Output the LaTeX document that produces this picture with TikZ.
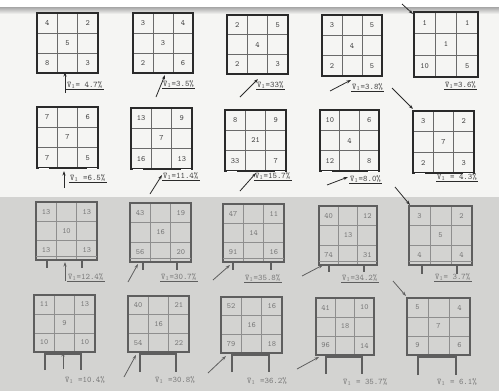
\documentclass[tikz,border=0pt]{standalone}
\usetikzlibrary{arrows.meta,calc}
\definecolor{paper}{HTML}{F5F5F3}
\definecolor{paperg}{HTML}{D3D3D1}
\definecolor{tink}{HTML}{2A2A2A}
\definecolor{tgridc}{HTML}{6A6A6A}
\definecolor{tnumc}{HTML}{454545}
\definecolor{bink}{HTML}{5E5E5E}
\definecolor{bgridc}{HTML}{8E8E8E}
\definecolor{bnumc}{HTML}{7A7A7A}
\tikzset{
  tbox/.style={inner sep=0pt,outer sep=0pt},
  bbox/.style={inner sep=0pt,outer sep=0pt},
  tborder/.style={draw=tink,line width=2.4pt},
  bborder/.style={draw=bink,line width=2.2pt},
  tgrid/.style={draw=tgridc,line width=0.8pt},
  bgrid/.style={draw=bgridc,line width=0.8pt},
  tnum/.style={text=tnumc,font=\fontsize{8}{9}\ttfamily,inner sep=0pt},
  bnum/.style={text=bnumc,font=\fontsize{8}{9}\ttfamily,inner sep=0pt},
  tlab/.style={text=tnumc,font=\fontsize{8.5}{10}\ttfamily,inner sep=1pt,anchor=west},
  blab/.style={text=bnumc,font=\fontsize{8.5}{10}\ttfamily,inner sep=1pt,anchor=west},
  tul/.style={draw=tink,line width=0.8pt},
  bul/.style={draw=bink,line width=0.8pt},
  tarr/.style={draw=tink,line width=0.8pt,-{Stealth[length=4.5pt,width=3pt]}},
  barr/.style={draw=bink,line width=0.8pt,-{Stealth[length=4.5pt,width=3pt]}},
  bleg/.style={draw=bink,line width=2.2pt},
}
\newcommand\gbox[7]{%
  \node[#6box, anchor=north west, minimum width={(#4-#2)*1pt}, minimum height={(#5-#3)*1pt}] (#1) at (#2,#3) {};
  \draw[#6grid] ($(#1.north west)!1/3!(#1.north east)$) -- ($(#1.south west)!1/3!(#1.south east)$)
    ($(#1.north west)!2/3!(#1.north east)$) -- ($(#1.south west)!2/3!(#1.south east)$)
    ($(#1.north west)!1/3!(#1.south west)$) -- ($(#1.north east)!1/3!(#1.south east)$)
    ($(#1.north west)!2/3!(#1.south west)$) -- ($(#1.north east)!2/3!(#1.south east)$);
  \draw[#6border] (#1.north west) rectangle (#1.south east);
  \gnums{#1}{#6}#7\relax}
\def\gnums#1#2#3/#4/#5/#6/#7\relax{%
  \node[#2num] (#1-tl) at ($(#1.north west)!1/6!(#1.south east)$) {#3};
  \node[#2num] (#1-tr) at ($(#1.north east)!1/6!(#1.south west)$) {#4};
  \node[#2num] (#1-c) at (#1.center) {#5};
  \node[#2num] (#1-bl) at ($(#1.south west)!1/6!(#1.north east)$) {#6};
  \node[#2num] (#1-br) at ($(#1.south east)!1/6!(#1.north west)$) {#7};}
\newcommand\vb{$\bar{\mathtt{V}}_{\scriptstyle 1}$}
\begin{document}
\begin{tikzpicture}[x=1pt,y=-1pt]
\useasboundingbox (0,0) rectangle (499,391);
% backgrounds
\fill[paper] (0,0) rectangle (499,197);
\fill[white] (0,0) rectangle (499,7);
\shade[top color=gray!70,bottom color=paper] (0,7) rectangle (499,14);
\fill[paperg] (0,197) rectangle (499,391);

% ---------- row 1 ----------
\gbox{b11}{37}{13}{98}{73}{t}{4/2/5/8/3}
\gbox{b12}{133}{13}{193}{73}{t}{3/4/3/2/6}
\gbox{b13}{227}{15}{288}{74}{t}{2/5/4/2/3}
\gbox{b14}{322}{15}{382}{76}{t}{3/5/4/2/5}
\gbox{b15}{414}{12}{478}{77}{t}{1/1/1/10/5}
\node[tlab] (l11) at (66,85) {\vb= 4.7\%};
\node[tlab] (l12) at (162,84) {\vb=3.5\%};
\node[tlab] (l13) at (256,85) {\vb=33\%};
\node[tlab] (l14) at (351,87) {\vb=3.8\%};
\node[tlab] (l15) at (444,85) {\vb=3.6\%};
\foreach \l in {l11,l12,l13,l14,l15} \draw[tul] (\l.south west) -- (\l.south east);
\coordinate (a11) at (65,93); \coordinate (t11) at (65,72);
\coordinate (a12) at (156,97); \coordinate (t12) at (165,75);
\coordinate (a13) at (240,97); \coordinate (t13) at (258,79);
\coordinate (a14) at (330,91); \coordinate (t14) at (351,80);
\coordinate (a15) at (392,88); \coordinate (t15) at (413,109);
\coordinate (a10) at (402,4); \coordinate (t10) at (413,14);
\draw[tarr] (a11) -- (t11);
\draw[tarr] (a12) -- (t12);
\draw[tarr] (a13) -- (t13);
\draw[tarr] (a14) -- (t14);
\draw[tarr] (a15) -- (t15);
\draw[tarr] (a10) -- (t10);

% ---------- row 2 ----------
\gbox{b21}{37}{107}{98}{168}{t}{7/6/7/7/5}
\gbox{b22}{131}{108}{192}{169}{t}{13/9/7/16/13}
\gbox{b23}{225}{110}{286}{171}{t}{8/9/21/33/7}
\gbox{b24}{320}{110}{379}{171}{t}{10/6/4/12/8}
\gbox{b25}{413}{111}{474}{173}{t}{3/2/7/2/3}
\foreach \b in {b21,b22,b23,b24,b25}{
  \draw[white,line width=0.7pt] ($(\b.south west)+(1.5,0)$) -- ++(10,0);
  \draw[white,line width=0.7pt] ($(\b.south east)+(-1.5,0)$) -- ++(-10,0);}
\node[tlab] (l21) at (69,178) {\vb\ =6.5\%};
\node[tlab] (l22) at (162,176) {\vb=11.4\%};
\node[tlab] (l23) at (254,176) {\vb=15.7\%};
\node[tlab] (l24) at (349,179) {\vb=8.0\%};
\node[tlab] (l25) at (436,177) {\vb\ = 4.3\%};
\foreach \l in {l21,l22,l23,l24,l25} \draw[tul] (\l.south west) -- (\l.south east);
\coordinate (a21) at (64,188); \coordinate (t21) at (64,171);
\coordinate (a22) at (150,194); \coordinate (t22) at (162,175);
\coordinate (a23) at (240,191); \coordinate (t23) at (256,173);
\coordinate (a24) at (327,185); \coordinate (t24) at (348,177);
\coordinate (a25) at (395,187); \coordinate (t25) at (410,205);
\draw[tarr] (a21) -- (t21);
\draw[tarr] (a22) -- (t22);
\draw[tarr] (a23) -- (t23);
\draw[tarr] (a24) -- (t24);
\draw[tarr] (a25) -- (t25);

% ---------- row 3 ----------
\gbox{b31}{36}{202}{97}{260}{b}{13/13/10/13/13}
\gbox{b32}{130}{203}{191}{262}{b}{43/19/16/56/20}
\gbox{b33}{223}{204}{284}{262}{b}{47/11/14/91/16}
\gbox{b34}{319}{206}{377}{265}{b}{40/12/13/74/31}
\gbox{b35}{409}{206}{472}{265}{b}{3/2/5/4/4}
\foreach \b in {b31,b32,b33,b34,b35}
  \draw[bgrid] ($(\b.south west)+(0,-3.5)$) -- ($(\b.south east)+(0,-3.5)$);
\draw[bleg] (47,260) -- (47,268) (82,260) -- (82,268);
\draw[bleg] (143,262) -- (143,270) (177,262) -- (177,270);
\draw[bleg] (233,262) -- (233,270) (271,262) -- (271,270);
\draw[bleg] (329,265) -- (329,272) (364,265) -- (364,272);
\draw[bleg] (422,265) -- (422,274) (457,265) -- (457,274);
\node[blab] (l31) at (67,277) {\vb=12.4\%};
\node[blab] (l32) at (160,277) {\vb=30.7\%};
\node[blab] (l33) at (244,278) {\vb=35.8\%};
\node[blab] (l34) at (341,278) {\vb=34.2\%};
\node[blab] (l35) at (434,277) {\vb= 3.7\%};
\foreach \l in {l31,l32,l33,l34,l35} \draw[bul] (\l.south west) -- (\l.south east);
\coordinate (a31) at (65,281); \coordinate (t31) at (65,262);
\coordinate (a32) at (128,282); \coordinate (t32) at (138,264);
\coordinate (a33) at (213,280); \coordinate (t33) at (230,265);
\coordinate (a34) at (302,276); \coordinate (t34) at (323,265);
\coordinate (a35) at (393,281); \coordinate (t35) at (406,296);
\draw[barr] (a31) -- (t31);
\draw[barr] (a32) -- (t32);
\draw[barr] (a33) -- (t33);
\draw[barr] (a34) -- (t34);
\draw[barr] (a35) -- (t35);

% ---------- row 4 ----------
\gbox{b41}{34}{295}{95}{352}{b}{11/13/9/10/10}
\gbox{b42}{128}{296}{189}{352}{b}{40/21/16/54/22}
\gbox{b43}{221}{297}{282}{353}{b}{52/16/16/79/18}
\gbox{b44}{316}{298}{374}{355}{b}{41/10/18/96/14}
\gbox{b45}{407}{298}{470}{355}{b}{5/4/7/9/6}
\draw[bleg] (45,370) -- (45,353.5) -- (81,353.5) -- (81,370);
\draw[bleg] (140,372) -- (140,353.5) -- (176,353.5) -- (176,372);
\draw[bleg] (232,372) -- (232,354.5) -- (269,354.5) -- (269,372);
\draw[bleg] (326,374) -- (326,356.5) -- (362,356.5) -- (362,374);
\draw[bleg] (418,375) -- (418,357) -- (456,357) -- (456,375);
\node[blab] (l41) at (64,380) {\vb\ =10.4\%};
\node[blab] (l42) at (154,380) {\vb\ =30.8\%};
\node[blab] (l43) at (246,381) {\vb\ =36.2\%};
\node[blab] (l44) at (342,382) {\vb\ = 35.7\%};
\node[blab] (l45) at (436,382) {\vb\ = 6.1\%};
\coordinate (a41) at (63,369); \coordinate (t41) at (63,352);
\coordinate (a42) at (124,377); \coordinate (t42) at (136,355);
\coordinate (a43) at (208,373); \coordinate (t43) at (226,356);
\coordinate (a44) at (297,369); \coordinate (t44) at (319,357);
\draw[barr] (a41) -- (t41);
\draw[barr] (a42) -- (t42);
\draw[barr] (a43) -- (t43);
\draw[barr] (a44) -- (t44);
\end{tikzpicture}
\end{document}
